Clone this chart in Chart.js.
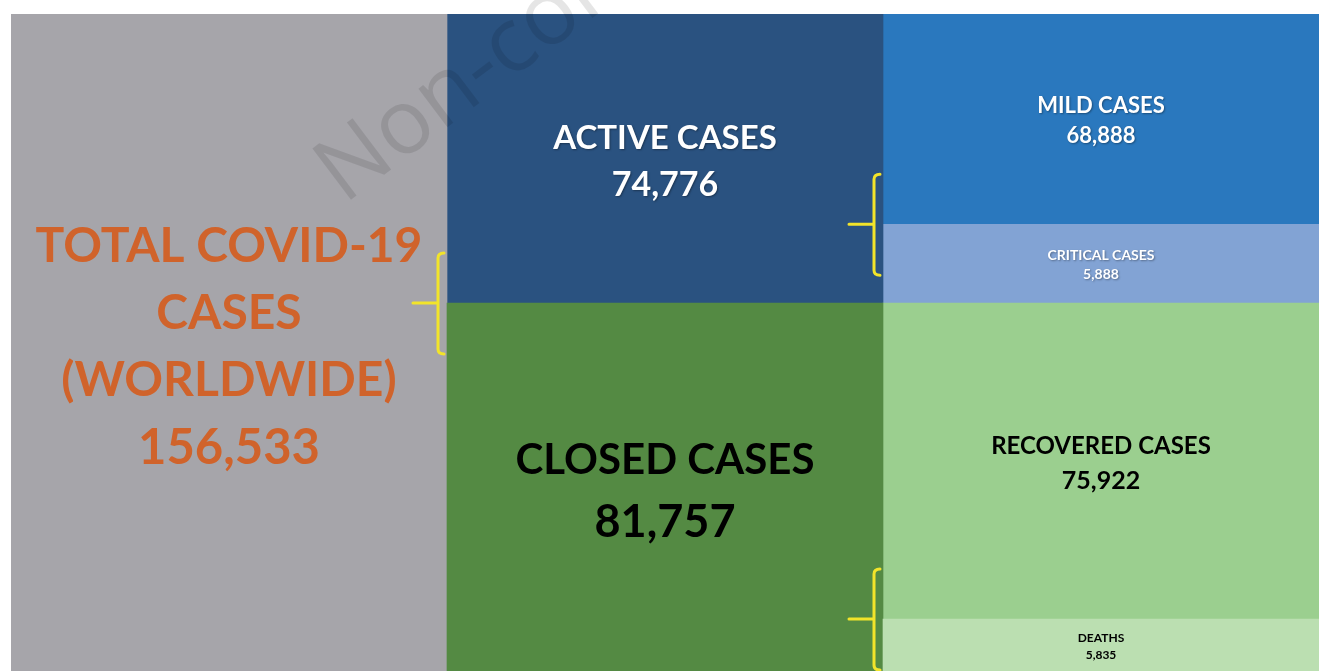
<!DOCTYPE html>
<html>
<head>
<meta charset="utf-8">
<title>COVID-19 cases worldwide</title>
<script src="https://cdn.jsdelivr.net/npm/chart.js@4.4.1/dist/chart.umd.min.js"></script>
<style>
    html, body { margin: 0; padding: 0; background: #ffffff; }
    #wrap { width: 1319px; height: 671px; position: relative; }
</style>
</head>
<body>
<div id="wrap"><canvas id="covidChart"></canvas></div>
<script>
// columns of the picture, left to right
const groupLabels = ['Total', 'Active / Closed', 'Breakdown'];

// share of each block in its column (%), as drawn in the picture; bottom layer first
const baseShare   = [100, 56.0, 7.9];
const secondShare = [null, 44.0, 48.1];
const thirdShare  = [null, null, 12.0];
const topShare    = [null, null, 32.0];

// case counts printed in the blocks
const baseCount   = [156533, 81757, 5835];
const secondCount = [null, 74776, 75922];
const thirdCount  = [null, null, 5888];
const topCount    = [null, null, 68888];

// block titles
const baseTitle   = [['TOTAL COVID-19', 'CASES', '(WORLDWIDE)'], ['CLOSED CASES'], ['DEATHS']];
const secondTitle = [null, ['ACTIVE CASES'], ['RECOVERED CASES']];
const thirdTitle  = [null, null, ['CRITICAL CASES']];
const topTitle    = [null, null, ['MILD CASES']];

const FONT = 'Lato, "DejaVu Sans", sans-serif';

// colours and text styles for each layer
const layers = [
    { name: 'base', share: baseShare, count: baseCount, title: baseTitle,
      colors: ['#a6a5aa', '#548a43', '#bbdfb1'],
      text: [
          { color: '#d0632b', size: 48, numSize: 49, gap: 67 },
          { color: '#000000', size: 42, numSize: 45, gap: 61 },
          { color: '#000000', size: 12, numSize: 12, gap: 17 }
      ] },
    { name: 'second', share: secondShare, count: secondCount, title: secondTitle,
      colors: [null, '#2a5280', '#9bcf8f'],
      text: [null,
          { color: '#ffffff', size: 33, numSize: 34, gap: 47, shadow: true },
          { color: '#000000', size: 24, numSize: 25, gap: 35 }
      ] },
    { name: 'third', share: thirdShare, count: thirdCount, title: thirdTitle,
      colors: [null, null, '#82a3d4'],
      text: [null, null, { color: '#ffffff', size: 14, numSize: 14, gap: 19, shadow: true }] },
    { name: 'top', share: topShare, count: topCount, title: topTitle,
      colors: [null, null, '#2a78be'],
      text: [null, null, { color: '#ffffff', size: 22, numSize: 22, gap: 30, shadow: true }] }
];

// brackets: [layer below, layer above, column]
const brackets = [[0, 1, 1], [2, 3, 2], [0, 1, 2]];

// рисуем подписи, скобки и водяной знак
const blockLabels = {
    id: 'blockLabels',
    afterDatasetsDraw(chart) {
        const ctx = chart.ctx;

        // watermark
        ctx.save();
        ctx.translate(344, 205);
        ctx.rotate(-37 * Math.PI / 180);
        ctx.font = '400 90px "Open Sans", sans-serif';
        ctx.fillStyle = 'rgba(0,0,0,0.1)';
        ctx.textBaseline = 'alphabetic';
        ctx.fillText('Non-commercial use', 0, 0);
        ctx.restore();

        // yellow brackets on the left side of a column, at the border of two blocks
        brackets.forEach(([lo, hi, col]) => {
            const bar = chart.getDatasetMeta(lo).data[col];
            if (!bar) return;
            const p = bar.getProps(['x', 'y', 'width'], true);
            const left = p.x - p.width / 2;
            const xv = left - 9, ym = p.y;
            ctx.save();
            ctx.strokeStyle = '#f2e42a';
            ctx.lineWidth = 3;
            ctx.lineCap = 'round';
            ctx.lineJoin = 'round';
            ctx.beginPath();
            ctx.moveTo(left - 3, ym - 50);
            ctx.quadraticCurveTo(xv, ym - 50, xv, ym - 45);
            ctx.lineTo(xv, ym + 46);
            ctx.quadraticCurveTo(xv, ym + 51, left - 3, ym + 51);
            ctx.moveTo(xv - 25, ym);
            ctx.lineTo(xv, ym);
            ctx.stroke();
            ctx.restore();
        });

        // texts in the blocks
        layers.forEach((layer, di) => {
            const meta = chart.getDatasetMeta(di);
            meta.data.forEach((bar, i) => {
                if (layer.share[i] == null) return;
                const st = layer.text[i];
                const p = bar.getProps(['x', 'y', 'base'], true);
                const lines = layer.title[i].concat([layer.count[i].toLocaleString('en-US')]);
                const cy = (p.y + p.base) / 2;
                const y0 = cy - (lines.length - 1) * st.gap / 2;
                ctx.save();
                ctx.textAlign = 'center';
                ctx.textBaseline = 'middle';
                ctx.fillStyle = st.color;
                if (st.shadow) {
                    ctx.shadowColor = 'rgba(0,0,0,0.35)';
                    ctx.shadowBlur = 2;
                    ctx.shadowOffsetX = 1;
                    ctx.shadowOffsetY = 1;
                }
                lines.forEach((txt, k) => {
                    const sz = k === lines.length - 1 ? st.numSize : st.size;
                    ctx.font = 'bold ' + sz + 'px ' + FONT;
                    ctx.fillText(txt, p.x, y0 + k * st.gap + sz * 0.1);
                });
                ctx.restore();
            });
        });
    }
};

const ctx = document.getElementById('covidChart').getContext('2d');
window.covidChart = new Chart(ctx, {
    type: 'bar',
    data: {
        labels: groupLabels,
        datasets: layers.map(l => ({
            label: l.name,
            data: l.share,
            backgroundColor: l.colors,
            borderWidth: 0,
            categoryPercentage: 1,
            barPercentage: 1
        }))
    },
    options: {
        responsive: true,
        maintainAspectRatio: false,
        animation: false,
        layout: { padding: { left: 11, top: 14, right: 0, bottom: 0 } },
        plugins: {
            legend: { display: false },
            tooltip: { enabled: false }
        },
        scales: {
            x: { stacked: true, display: false },
            y: { stacked: true, display: false, min: 0, max: 100 }
        }
    },
    plugins: [blockLabels]
});
</script>
</body>
</html>
